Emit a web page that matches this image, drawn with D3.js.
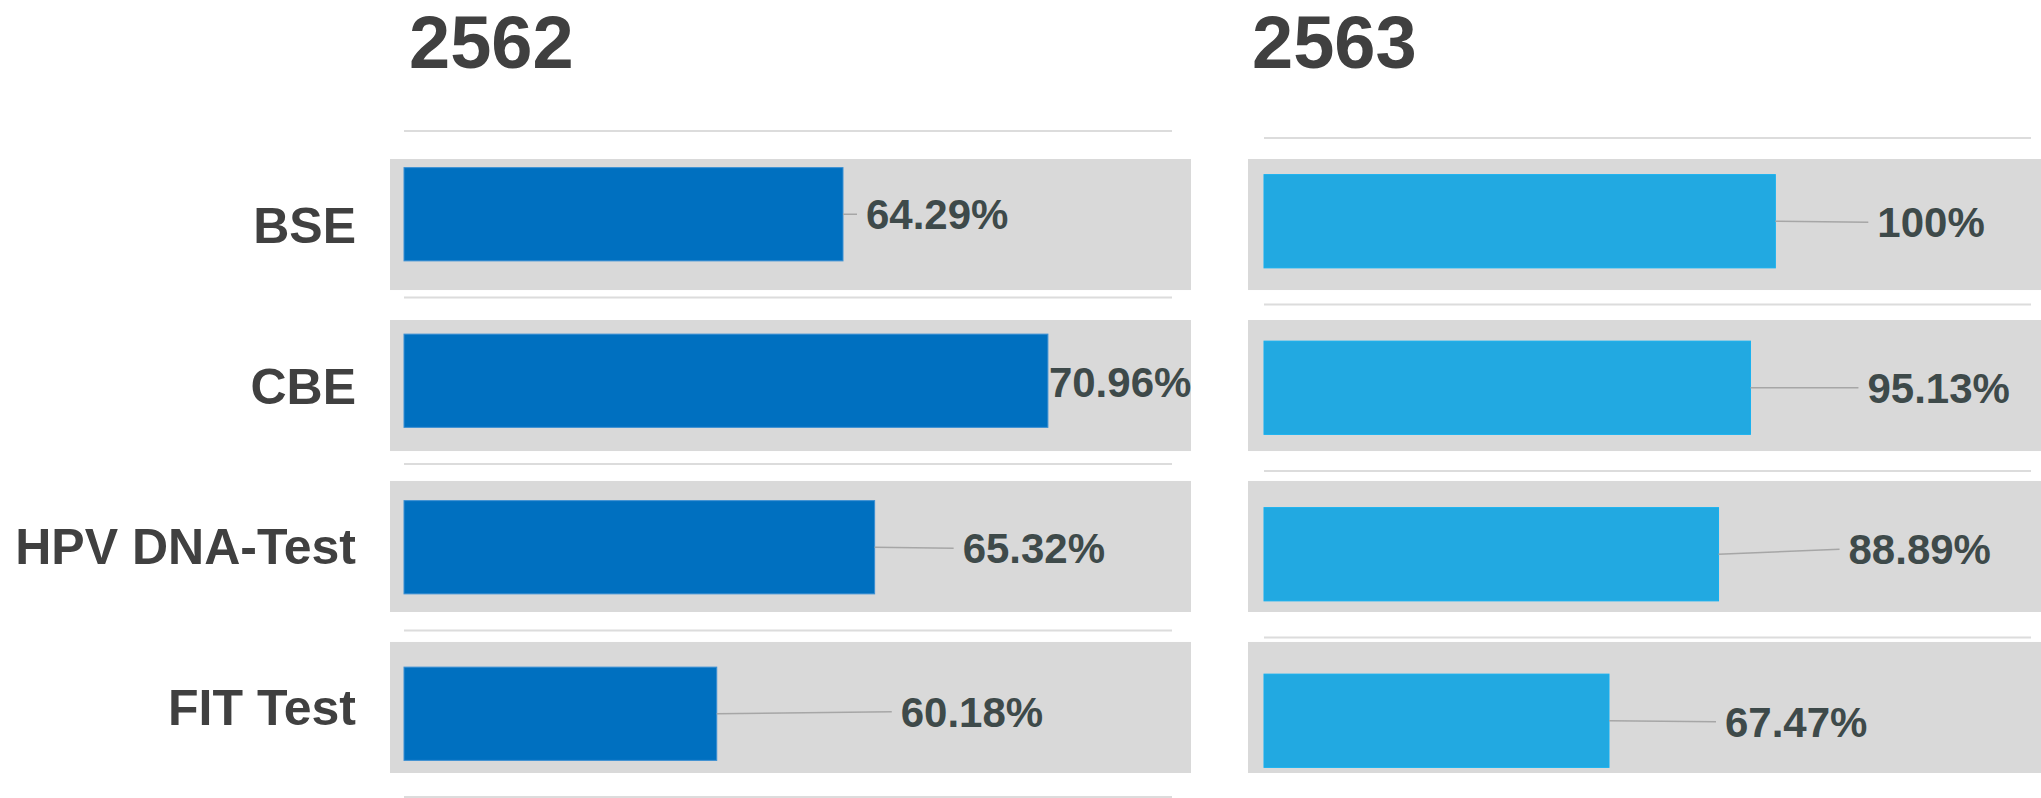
<!DOCTYPE html>
<html>
<head>
<meta charset="utf-8">
<script src="https://cdn.jsdelivr.net/npm/d3@7"></script>
<style>
    html, body { margin: 0; padding: 0; background: #ffffff; }
    svg { display: block; }
    text { font-family: "Liberation Sans", Arial, sans-serif; font-weight: bold; }
</style>
</head>
<body>
<svg id="chart" width="2041" height="798"></svg>
<script>
    /* Data */
    /* **** */
    var categories = ['BSE', 'CBE', 'HPV DNA-Test', 'FIT Test'];
    var years = ['2562', '2563'];
    var values2562 = [64.29, 70.96, 65.32, 60.18];
    var values2563 = [100, 95.13, 88.89, 67.47];

    // Axis domains as used by the original charts
    var domain2562 = [50, 75];
    var domain2563 = [0, 150];

    // Data label placement (gap from bar end, vertical nudge), in px
    var labelGap2562 = [23, 1, 88, 184];
    var labelGap2563 = [102, 117, 130, 116];
    var labelDy2562 = [0, 1, 1, -2];
    var labelDy2563 = [1, 0, -5, 1];

    var svg = d3.select('#chart');

    // Grey row backgrounds, shared by both panels
    var rowScale = d3.scaleBand()
        .domain(categories)
        .range([159, 773])
        .paddingInner(0.186)
        .paddingOuter(0);

    var panels = [
        {
            year: years[0], values: values2562, domain: domain2562,
            xRange: [404, 1172], yRange: [131, 797], bg: [390, 1191],
            color: '#0070c0', edge: '#3a8fd3', titleX: 409,
            gaps: labelGap2562, dys: labelDy2562
        },
        {
            year: years[1], values: values2563, domain: domain2563,
            xRange: [1264, 2031], yRange: [138, 804], bg: [1248, 2041],
            color: '#22a9e1', edge: '#14b0f0', titleX: 1252,
            gaps: labelGap2563, dys: labelDy2563
        }
    ];

    // Category labels on the left
    svg.append('g')
        .attr('class', 'categories')
        .selectAll('text')
        .data(categories)
        .enter()
        .append('text')
        .attr('x', 356)
        .attr('y', function (d) { return rowScale(d) + rowScale.bandwidth() / 2 + 18; })
        .attr('text-anchor', 'end')
        .attr('font-size', 50)
        .attr('fill', '#404040')
        .text(function (d) { return d; });

    panels.forEach(function (p) {
        var g = svg.append('g').attr('class', 'panel');

        var x = d3.scaleLinear().domain(p.domain).range(p.xRange);
        var y = d3.scaleBand()
            .domain(categories)
            .range(p.yRange)
            .paddingInner(0.44)
            .paddingOuter(0.22);

        var midY = function (i) { return y(categories[i]) + y.bandwidth() / 2; };

        // Title
        g.append('text')
            .attr('x', p.titleX)
            .attr('y', 68)
            .attr('font-size', 74)
            .attr('fill', '#404040')
            .text(p.year);

        // Row backgrounds
        g.append('g')
            .selectAll('rect')
            .data(categories)
            .enter()
            .append('rect')
            .attr('x', p.bg[0])
            .attr('width', p.bg[1] - p.bg[0])
            .attr('y', function (d) { return rowScale(d); })
            .attr('height', rowScale.bandwidth())
            .attr('fill', '#d9d9d9');

        // Separator lines between categories
        var seps = d3.range(categories.length + 1).map(function (i) {
            return p.yRange[0] + i * y.step();
        });
        g.append('g')
            .selectAll('line')
            .data(seps)
            .enter()
            .append('line')
            .attr('x1', p.xRange[0])
            .attr('x2', p.xRange[1])
            .attr('y1', function (d) { return d; })
            .attr('y2', function (d) { return d; })
            .attr('stroke', '#dcdcdc')
            .attr('stroke-width', 2);

        // Bars
        g.append('g')
            .selectAll('rect')
            .data(p.values)
            .enter()
            .append('rect')
            .attr('x', x(p.domain[0]))
            .attr('y', function (d, i) { return y(categories[i]); })
            .attr('width', function (d) { return x(d) - x(p.domain[0]); })
            .attr('height', y.bandwidth())
            .attr('fill', p.color)
            .attr('stroke', p.edge)
            .attr('stroke-width', 1);

        // Leader lines (only where the label sits away from the bar)
        var leaders = d3.range(p.values.length).filter(function (i) { return p.gaps[i] > 12; });
        g.append('g')
            .selectAll('line')
            .data(leaders)
            .enter()
            .append('line')
            .attr('x1', function (i) { return x(p.values[i]); })
            .attr('y1', function (i) { return midY(i); })
            .attr('x2', function (i) { return x(p.values[i]) + p.gaps[i] - 9; })
            .attr('y2', function (i) { return midY(i) + p.dys[i]; })
            .attr('stroke', '#a6a6a6')
            .attr('stroke-width', 1.5);

        // Data labels
        g.append('g')
            .selectAll('text')
            .data(p.values)
            .enter()
            .append('text')
            .attr('x', function (d, i) { return x(d) + p.gaps[i]; })
            .attr('y', function (d, i) { return midY(i) + p.dys[i] + 15; })
            .attr('font-size', 42)
            .attr('fill', '#3e4a4a')
            .text(function (d) { return d + '%'; });
    });
</script>
</body>
</html>
